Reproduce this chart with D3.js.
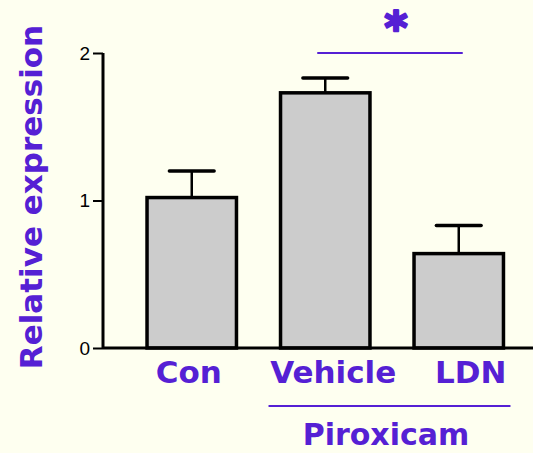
<!DOCTYPE html>
<html>
<head>
<script src="https://d3js.org/d3.v7.min.js"></script>
<style>
body { margin: 0; background: #fefff0; }
svg { display: block; }
.lab { font-family: "DejaVu Sans", sans-serif; font-weight: bold; fill: #5520d4; }
.axis text { font-family: "Liberation Sans", Arial, sans-serif; font-size: 19px; fill: #000; }
</style>
</head>
<body>
<div id="chart"></div>
<script>
var categories = ["Con", "Vehicle", "LDN"];
var means = [1.02, 1.73, 0.64];
var errors = [0.18, 0.10, 0.19];
var yTicks = [0, 1, 2];

var W = 533, H = 453;
var purple = "#5520d4";
// labels in the original sit a little right of the bar centres
var labelShift = [-3, 8, 12];

var svg = d3.select("#chart").append("svg")
    .attr("width", W)
    .attr("height", H);

var x = d3.scaleBand().domain(categories)
    .range([125, 525.5])
    .paddingInner(0.33)
    .paddingOuter(0.165);

var y = d3.scaleLinear().domain([0, 2]).range([348, 53]);

// y axis
var yAxis = svg.append("g")
    .attr("class", "axis")
    .attr("transform", "translate(103,0)")
    .call(d3.axisLeft(y).tickValues(yTicks).tickFormat(d3.format("d")).tickSize(10).tickPadding(3));
yAxis.select(".domain").attr("stroke-width", 3).attr("d", "M0," + y(2) + "V" + y(0));
yAxis.selectAll(".tick line").attr("stroke-width", 2);

// error bars (drawn behind the bars)
var capW = x.bandwidth() / 2;
var eb = svg.selectAll(".err").data(categories).enter().append("g").attr("class", "err");
eb.append("line")
    .attr("x1", function(d) { return x(d) + x.bandwidth() / 2; })
    .attr("x2", function(d) { return x(d) + x.bandwidth() / 2; })
    .attr("y1", function(d, i) { return y(means[i]); })
    .attr("y2", function(d, i) { return y(means[i] + errors[i]); })
    .attr("stroke", "#000").attr("stroke-width", 2.5);
eb.append("line")
    .attr("x1", function(d) { return x(d) + x.bandwidth() / 2 - capW / 2; })
    .attr("x2", function(d) { return x(d) + x.bandwidth() / 2 + capW / 2; })
    .attr("y1", function(d, i) { return y(means[i] + errors[i]); })
    .attr("y2", function(d, i) { return y(means[i] + errors[i]); })
    .attr("stroke", "#000").attr("stroke-width", 3.5).attr("stroke-linecap", "round");

svg.selectAll(".bar").data(categories).enter().append("rect")
    .attr("class", "bar")
    .attr("x", function(d) { return x(d); })
    .attr("y", function(d, i) { return y(means[i]); })
    .attr("width", x.bandwidth())
    .attr("height", function(d, i) { return y(0) - y(means[i]); })
    .attr("fill", "#cccccc")
    .attr("stroke", "#000")
    .attr("stroke-width", 3.5);

// x axis baseline
svg.append("line")
    .attr("x1", 103).attr("x2", W)
    .attr("y1", y(0)).attr("y2", y(0))
    .attr("stroke", "#000").attr("stroke-width", 3);

// category labels
svg.selectAll(".cat").data(categories).enter().append("text")
    .attr("class", "lab cat")
    .attr("x", function(d, i) { return x(d) + x.bandwidth() / 2 + labelShift[i]; })
    .attr("y", 383)
    .attr("text-anchor", "middle")
    .style("font-size", "31px")
    .text(function(d) { return d; });

// Piroxicam group
svg.append("line")
    .attr("x1", x("Vehicle") - 12).attr("x2", x("LDN") + x.bandwidth() + 7)
    .attr("y1", 406).attr("y2", 406)
    .attr("stroke", purple).attr("stroke-width", 2);
svg.append("text")
    .attr("class", "lab")
    .attr("x", 386)
    .attr("y", 445)
    .attr("text-anchor", "middle")
    .style("font-size", "30px")
    .text("Piroxicam");

// significance
svg.append("line")
    .attr("x1", x("Vehicle") + x.bandwidth() / 2 - 8).attr("x2", x("LDN") + x.bandwidth() / 2 + 4)
    .attr("y1", 53).attr("y2", 53)
    .attr("stroke", purple).attr("stroke-width", 2);
svg.append("text")
    .attr("class", "lab")
    .attr("x", 396)
    .attr("y", 43)
    .attr("text-anchor", "middle")
    .attr("stroke", purple)
    .attr("stroke-width", 2.5)
    .attr("stroke-linejoin", "round")
    .style("font-size", "44px")
    .text("*");

// y label
svg.append("text")
    .attr("class", "lab")
    .attr("transform", "translate(42," + 197 + ") rotate(-90)")
    .attr("text-anchor", "middle")
    .style("font-size", "31px")
    .text("Relative expression");
</script>
</body>
</html>
